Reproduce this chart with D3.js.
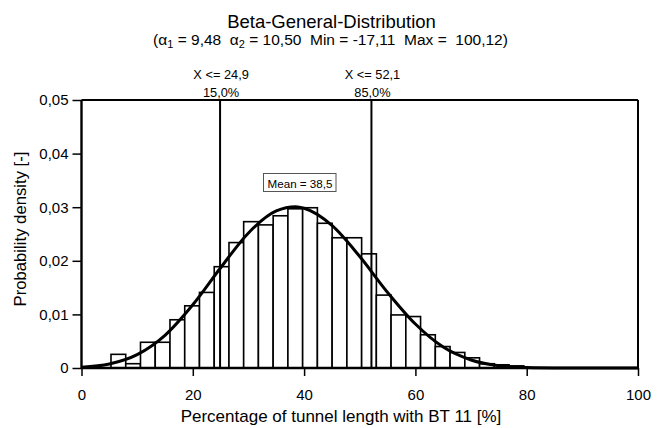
<!DOCTYPE html>
<html>
<head>
<meta charset="utf-8">
<script src="https://cdn.jsdelivr.net/npm/d3@7"></script>
<style>
  html, body { margin: 0; padding: 0; background: #fff; }
  svg { display: block; font-family: "Liberation Sans", Arial, sans-serif; }
</style>
</head>
<body>
<svg id="chart" width="664" height="428"></svg>
<script>
// ---- data ----
const binWidth = 2.648;
const binStarts = [5.30, 7.95, 10.60, 13.25, 15.90, 18.55, 21.20, 23.85, 26.50, 29.14,
                   31.79, 34.44, 37.09, 39.74, 42.39, 45.04, 47.69, 50.34, 52.98, 55.63,
                   58.28, 60.93, 63.58, 66.23, 68.88, 71.53, 74.18, 76.83];
const binDensity = [0.00255, 0.0008, 0.0048, 0.0048, 0.0090, 0.0116, 0.0141, 0.0189, 0.0234, 0.0273,
                    0.0267, 0.0284, 0.0297, 0.0299, 0.0270, 0.0243, 0.0243, 0.0213, 0.0136, 0.0099,
                    0.0096, 0.0062, 0.0040, 0.0029, 0.0019, 0.0008, 0.0006, 0.0004];
const curveX = [0, 5, 10, 15, 20, 25, 30, 35, 38.5, 40, 45, 50, 55, 60, 65, 70, 75, 80, 85, 90, 100];
const curveY = [0.00014, 0.00075, 0.0025, 0.0061, 0.0118, 0.0187, 0.0252, 0.0293, 0.0301, 0.0298,
                0.0266, 0.0208, 0.0141, 0.0082, 0.0039, 0.0015, 0.00043, 0.00008, 0.00001, 0, 0];
const markerValues = [24.9, 52.1];
const markerLabels = ["X <= 24,9", "X <= 52,1"];
const markerPct = ["15,0%", "85,0%"];
const meanLabel = "Mean = 38,5";
const meanValue = 38.5;
const xTicks = [0, 20, 40, 60, 80, 100];
const yTicks = [0, 0.01, 0.02, 0.03, 0.04, 0.05];
const yTickLabels = ["0", "0,01", "0,02", "0,03", "0,04", "0,05"];
const titleText = "Beta-General-Distribution";
const xTitle = "Percentage of tunnel length with BT 11 [%]";
const yTitle = "Probability density [-]";

// ---- layout ----
const L = 81.5, R = 638, T = 100, B = 368;
const FONT = '"Liberation Sans", Arial, sans-serif';
const svg = d3.select("#chart");
const x = d3.scaleLinear().domain([0, 100]).range([L, R]);
const y = d3.scaleLinear().domain([0, 0.05]).range([B, T]);

// bars
const bars = binStarts.map((s, i) => ({x0: s, x1: s + binWidth, v: binDensity[i]}));
svg.append("g").selectAll("rect").data(bars).join("rect")
  .attr("x", d => x(d.x0)).attr("width", d => x(d.x1) - x(d.x0))
  .attr("y", d => y(d.v)).attr("height", d => y(0) - y(d.v))
  .attr("fill", "#fff").attr("stroke", "#000").attr("stroke-width", 1.6);

// curve
const pts = curveX.map((cx, i) => [cx, curveY[i]]);
svg.append("path").datum(pts)
  .attr("d", d3.line().x(d => x(d[0])).y(d => y(d[1])).curve(d3.curveMonotoneX))
  .attr("fill", "none").attr("stroke", "#000").attr("stroke-width", 3);

// marker lines
svg.append("g").selectAll("line").data(markerValues).join("line")
  .attr("x1", d => x(d)).attr("x2", d => x(d)).attr("y1", T).attr("y2", B)
  .attr("stroke", "#000").attr("stroke-width", 2);

// frame top/right
svg.append("line").attr("x1", L).attr("x2", R).attr("y1", T).attr("y2", T)
  .attr("stroke", "#000").attr("stroke-width", 2);
svg.append("line").attr("x1", R).attr("x2", R).attr("y1", T).attr("y2", B)
  .attr("stroke", "#000").attr("stroke-width", 2);

// axes
const xAxis = svg.append("g").attr("transform", `translate(0,${B})`)
  .call(d3.axisBottom(x).tickValues(xTicks).tickSize(8).tickPadding(13).tickFormat(d3.format("d")));
const yAxis = svg.append("g").attr("transform", `translate(${L},0)`)
  .call(d3.axisLeft(y).tickValues(yTicks).tickSize(9).tickPadding(4).tickFormat((d, i) => yTickLabels[i]));
[xAxis, yAxis].forEach(g => {
  g.select(".domain").attr("stroke", "#000").attr("stroke-width", 2.4);
  g.selectAll(".tick line").attr("stroke", "#000").attr("stroke-width", 1.5);
  g.selectAll(".tick text").attr("fill", "#000").style("font-size", "15px")
    .style("font-family", FONT);
});
xAxis.select(".domain").attr("d", `M${L},0H${R}`);
yAxis.select(".domain").attr("d", `M0,${B}V${T}`);

// marker labels
markerValues.forEach((v, i) => {
  svg.append("text").attr("x", x(v) + 1).attr("y", 79).attr("text-anchor", "middle")
    .style("font-size", "12.8px").text(markerLabels[i]);
  svg.append("text").attr("x", x(v) + 1).attr("y", 96.5).attr("text-anchor", "middle")
    .style("font-size", "12.8px").text(markerPct[i]);
});

// mean box
svg.append("rect").attr("x", 263.5).attr("y", 173.5).attr("width", 72.5).attr("height", 18)
  .attr("fill", "#fff").attr("stroke", "#555").attr("stroke-width", 1);
svg.append("text").attr("x", 300).attr("y", 188).attr("text-anchor", "middle")
  .style("font-size", "11.6px").text(meanLabel);

// titles
svg.append("text").attr("x", 331.5).attr("y", 28).attr("text-anchor", "middle")
  .style("font-size", "18.5px").text(titleText);
const sub = svg.append("text").attr("x", 330.5).attr("y", 45).attr("text-anchor", "middle")
  .style("font-size", "15.5px").attr("xml:space", "preserve");
sub.append("tspan").text("(");
sub.append("tspan").text("α");
sub.append("tspan").attr("dy", 3).style("font-size", "11px").text("1");
sub.append("tspan").attr("dy", -3).text(" = 9,48  ");
sub.append("tspan").text("α");
sub.append("tspan").attr("dy", 3).style("font-size", "11px").text("2");
sub.append("tspan").attr("dy", -3).text(" = 10,50  Min = -17,11  Max =  100,12)");

svg.append("text").attr("x", 341).attr("y", 421.5).attr("text-anchor", "middle")
  .style("font-size", "17px").text(xTitle);
svg.append("text").attr("transform", `translate(25.5,229) rotate(-90)`)
  .attr("text-anchor", "middle").style("font-size", "16.7px").text(yTitle);
</script>
</body>
</html>
